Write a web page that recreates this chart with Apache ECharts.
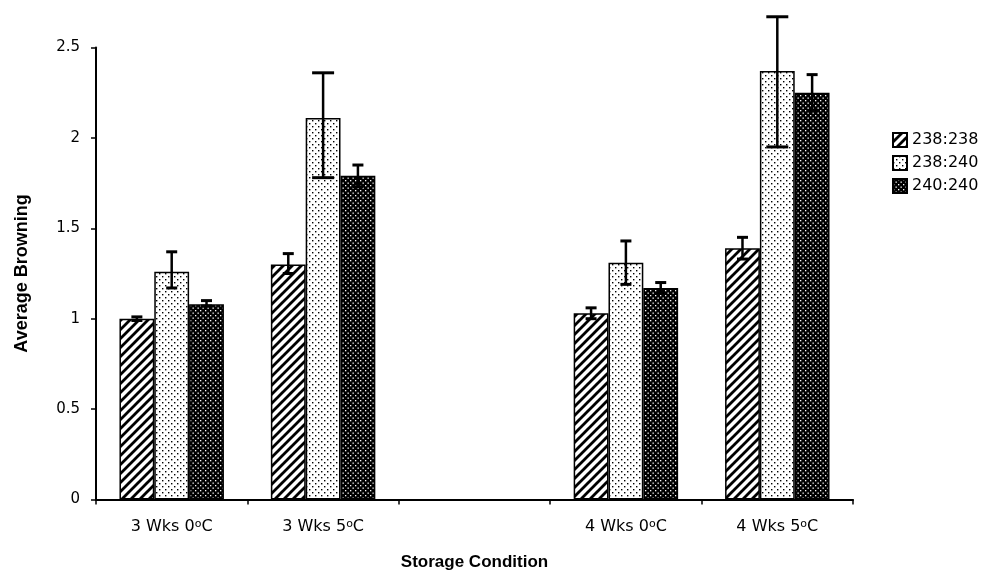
<!DOCTYPE html>
<html>
<head>
<meta charset="utf-8">
<script src="https://cdn.jsdelivr.net/npm/echarts@6/dist/echarts.min.js"></script>
<style>html,body{margin:0;padding:0;background:#fff}#c{width:990px;height:578px}</style>
</head>
<body>
<div id="c"></div>
<script>
// ---- data ----
var categories = ['3 Wks 0oC', '3 Wks 5oC', '', '4 Wks 0oC', '4 Wks 5oC'];
var seriesNames = ['238:238', '238:240', '240:240'];
var vals238_238 = [1.00, 1.30, null, 1.03, 1.39];
var vals238_240 = [1.26, 2.11, null, 1.31, 2.37];
var vals240_240 = [1.08, 1.79, null, 1.17, 2.25];
// error bar ends (low, high)
var errLow238_238  = [0.99, 1.25, null, 1.00, 1.33];
var errHigh238_238 = [1.01, 1.36, null, 1.06, 1.45];
var errLow238_240  = [1.17, 1.78, null, 1.19, 1.95];
var errHigh238_240 = [1.37, 2.36, null, 1.43, 2.67];
var errLow240_240  = [1.07, 1.73, null, 1.14, 2.15];
var errHigh240_240 = [1.10, 1.85, null, 1.20, 2.35];
var yTicks = [0, 0.5, 1, 1.5, 2, 2.5];

// ---- patterns ----
function hatch() {
  var c = document.createElement('canvas'); c.width = 9; c.height = 9;
  var g = c.getContext('2d');
  g.fillStyle = '#fff'; g.fillRect(0, 0, 9, 9);
  g.strokeStyle = '#000'; g.lineWidth = 2.8;
  g.beginPath();
  g.moveTo(-1, 10); g.lineTo(10, -1);
  g.moveTo(-5.5, 5.5); g.lineTo(5.5, -5.5);
  g.moveTo(3.5, 14.5); g.lineTo(14.5, 3.5);
  g.stroke();
  return c;
}
function dots(bg, fg, size, d) {
  var c = document.createElement('canvas'); c.width = size; c.height = size;
  var g = c.getContext('2d');
  g.fillStyle = bg; g.fillRect(0, 0, size, size);
  g.fillStyle = fg;
  g.fillRect(0, 0, d, d);
  g.fillRect(size / 2, size / 2, d, d);
  return c;
}
var patterns = [
  { image: hatch(), repeat: 'repeat' },
  { image: dots('#fff', '#000', 6, 1.4), repeat: 'repeat' },
  { image: dots('#000', '#fff', 5, 1.3), repeat: 'repeat' }
];

var values = [vals238_238, vals238_240, vals240_240];
var lows = [errLow238_238, errLow238_240, errLow240_240];
var highs = [errHigh238_238, errHigh238_240, errHigh240_240];
var catGap = 0.31;
var txtFont = 'DejaVu Sans, Arial, sans-serif';
var titleFont = 'Liberation Sans, Arial, sans-serif';

var series = [];
for (var s = 0; s < 3; s++) {
  series.push({
    name: seriesNames[s],
    type: 'bar',
    barGap: '0%',
    barCategoryGap: (catGap * 100) + '%',
    data: values[s].map(function (v) { return v == null ? '-' : v; }),
    itemStyle: { color: patterns[s], borderColor: '#000', borderWidth: 1.5 },
    emphasis: { disabled: true },
    z: 2
  });
}
var errData = [];
for (var s2 = 0; s2 < 3; s2++) {
  for (var i = 0; i < categories.length; i++) {
    if (lows[s2][i] != null) errData.push([i, lows[s2][i], highs[s2][i], s2]);
  }
}
series.push({
  type: 'custom',
  name: 'err',
  z: 5,
  silent: true,
  encode: { x: 0, y: [1, 2] },
  data: errData,
  renderItem: function (params, api) {
    var ci = api.value(0), lo = api.value(1), hi = api.value(2), si = api.value(3);
    var band = api.size([1, 0])[0];
    var bw = band * (1 - catGap) / 3;
    var cx = api.coord([ci, 0])[0] + (si - 1) * bw;
    var yl = api.coord([ci, lo])[1], yh = api.coord([ci, hi])[1];
    var cap = (hi - lo) > 0.45 ? 11 : 5.5;
    return {
      type: 'group',
      children: [
        { type: 'line', shape: { x1: cx, y1: yl, x2: cx, y2: yh }, style: { stroke: '#000', lineWidth: 2.5 } },
        { type: 'line', shape: { x1: cx - cap, y1: yh, x2: cx + cap, y2: yh }, style: { stroke: '#000', lineWidth: 3 } },
        { type: 'line', shape: { x1: cx - cap, y1: yl, x2: cx + cap, y2: yl }, style: { stroke: '#000', lineWidth: 3 } }
      ]
    };
  }
});

var chart = echarts.init(document.getElementById('c'), null, { renderer: 'canvas' });
chart.setOption({
  animation: false,
  backgroundColor: '#fff',
  textStyle: { fontFamily: txtFont },
  grid: { left: 96, right: 137, top: 47.5, bottom: 78.5, containLabel: false },
  legend: {
    data: seriesNames,
    orient: 'vertical',
    left: 892, top: 131, padding: 0,
    itemWidth: 14, itemHeight: 14, itemGap: 5,
    icon: 'rect',
    textStyle: { fontSize: 16, color: '#000', fontFamily: txtFont, lineHeight: 18 },
    selectedMode: false
  },
  xAxis: {
    type: 'category',
    data: categories,
    boundaryGap: true,
    name: 'Storage Condition',
    nameLocation: 'middle',
    nameGap: 54,
    nameTextStyle: { fontSize: 17, fontWeight: 'bold', color: '#000', fontFamily: titleFont },
    axisLine: { lineStyle: { color: '#000', width: 2 } },
    axisTick: { show: true, length: 5, lineStyle: { color: '#000', width: 1.5 }, interval: 0 },
    axisLabel: {
      interval: 0, margin: 19, color: '#000', fontSize: 16, fontFamily: txtFont,
      formatter: function (v) { return v.replace(/(\d)oC/, '$1{sup|o}C'); },
      rich: { sup: { fontSize: 11, verticalAlign: 'top', padding: [0, 0, 6, 0], color: '#000', fontFamily: txtFont } }
    }
  },
  yAxis: {
    type: 'value',
    min: yTicks[0], max: yTicks[yTicks.length - 1], interval: 0.5,
    name: 'Average Browning',
    nameLocation: 'middle',
    nameGap: 65,
    nameTextStyle: { fontSize: 18, fontWeight: 'bold', color: '#000', fontFamily: titleFont },
    axisLine: { show: true, lineStyle: { color: '#000', width: 2 } },
    axisTick: { show: true, length: 5, lineStyle: { color: '#000', width: 1.5 } },
    splitLine: { show: false },
    axisLabel: { color: '#000', fontSize: 15, margin: 16, fontFamily: txtFont }
  },
  series: series
});
</script>
</body>
</html>
